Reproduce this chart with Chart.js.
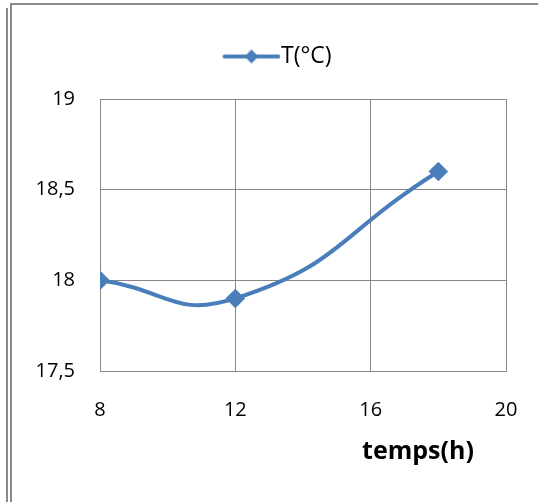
<!DOCTYPE html>
<html>
<head>
<meta charset="utf-8">
<script src="https://cdn.jsdelivr.net/npm/chart.js@4/dist/chart.umd.min.js"></script>
<style>
  html, body { margin: 0; padding: 0; background: #fff; }
  #wrap { position: relative; width: 538px; height: 502px; overflow: hidden; }
  #chart { position: absolute; left: 0; top: 0; }
  .rule { position: absolute; background: #8a8a8a; }
</style>
</head>
<body>
<div id="wrap">
  <canvas id="chart" width="538" height="502"></canvas>
  <!-- frame lines around the chart -->
  <div class="rule" style="left:6px; top:8px; width:2px; height:494px;"></div>
  <div class="rule" style="left:10px; top:3px; width:2px; height:499px;"></div>
  <div class="rule" style="left:10px; top:3px; width:528px; height:2px;"></div>
</div>
<script>
// Temperature readings over the day
const hours = [8, 12, 18];
const temps = [18.0, 17.9, 18.6];
const seriesLabel = 'T(°C)';
const xTitle = 'temps(h)';
const xTicks = [8, 12, 16, 20];
const yTicks = [17.5, 18, 18.5, 19];

const lineColor = '#4a7ebb';
const gridColor = '#878787';
const fontFamily = "'Open Sans', 'Noto Sans', sans-serif";

// Legend symbol: a short line with a diamond in the middle.
// Left part of the image is left blank so the symbol sits closer to its text.
function legendSymbol() {
    const c = document.createElement('canvas');
    c.width = 80;
    c.height = 16;
    const g = c.getContext('2d');
    g.strokeStyle = lineColor;
    g.lineWidth = 4;
    g.lineCap = 'round';
    g.beginPath();
    g.moveTo(24, 8);
    g.lineTo(78, 8);
    g.stroke();
    g.fillStyle = lineColor;
    g.beginPath();
    g.moveTo(51, 1);
    g.lineTo(58, 8);
    g.lineTo(51, 15);
    g.lineTo(44, 8);
    g.closePath();
    g.fill();
    return c;
}

// Leave some room between the legend and the plot
const legendGap = {
    id: 'legendGap',
    beforeUpdate(chart) {
        const legend = chart.legend;
        if (legend && !legend._gapPatched) {
            const fit = legend.fit;
            legend.fit = function () {
                fit.call(this);
                this.height += 21;
            };
            legend._gapPatched = true;
        }
    }
};

// Bold axis title sitting under the right part of the plot
const xTitlePlugin = {
    id: 'xTitle',
    afterDraw(chart) {
        const area = chart.chartArea;
        const ctx = chart.ctx;
        ctx.save();
        ctx.font = "bold 25px " + fontFamily;
        ctx.fillStyle = '#000';
        ctx.textAlign = 'center';
        ctx.textBaseline = 'middle';
        ctx.fillText(xTitle, area.right - 88, area.bottom + 81);
        ctx.restore();
    }
};

const ctx = document.getElementById('chart').getContext('2d');
new Chart(ctx, {
    type: 'line',
    data: {
        datasets: [{
            label: seriesLabel,
            data: hours.map((h, i) => ({ x: h, y: temps[i] })),
            borderColor: lineColor,
            backgroundColor: lineColor,
            borderWidth: 4,
            tension: 0.5,
            pointStyle: 'rectRot',
            pointRadius: 7,
            pointHoverRadius: 7,
            pointBackgroundColor: lineColor,
            pointBorderColor: lineColor,
            fill: false
        }]
    },
    options: {
        responsive: false,
        animation: false,
        layout: { padding: { left: 37, right: 32, top: 0, bottom: 0 } },
        plugins: {
            legend: {
                position: 'top',
                labels: {
                    usePointStyle: true,
                    pointStyleWidth: 58,
                    boxHeight: 16,
                    padding: 45,
                    color: '#000',
                    font: { family: fontFamily, size: 23 },
                    generateLabels(chart) {
                        return [{
                            text: seriesLabel,
                            pointStyle: legendSymbol(),
                            fillStyle: lineColor,
                            strokeStyle: lineColor,
                            lineWidth: 0,
                            datasetIndex: 0,
                            fontColor: '#000'
                        }];
                    }
                }
            },
            tooltip: { enabled: false }
        },
        scales: {
            x: {
                type: 'linear',
                min: xTicks[0],
                max: xTicks[xTicks.length - 1],
                afterBuildTicks(scale) { scale.ticks = xTicks.map(v => ({ value: v })); },
                afterFit(scale) {
                    scale.height = 131;
                    // tick padding should not eat into the plot width
                    scale.paddingLeft = 0;
                    scale.paddingRight = 0;
                },
                grid: { color: gridColor, lineWidth: 1, drawTicks: false },
                border: { color: gridColor, width: 1 },
                ticks: {
                    padding: 27,
                    color: '#000',
                    font: { family: fontFamily, size: 20 }
                }
            },
            y: {
                min: yTicks[0],
                max: yTicks[yTicks.length - 1],
                afterBuildTicks(scale) { scale.ticks = yTicks.map(v => ({ value: v })); },
                afterFit(scale) { scale.width = 63; },
                grid: { color: gridColor, lineWidth: 1, drawTicks: false },
                border: { color: gridColor, width: 1 },
                ticks: {
                    padding: 25,
                    color: '#000',
                    font: { family: fontFamily, size: 20 },
                    callback: v => String(v).replace('.', ',')
                }
            }
        }
    },
    plugins: [legendGap, xTitlePlugin]
});
</script>
</body>
</html>
